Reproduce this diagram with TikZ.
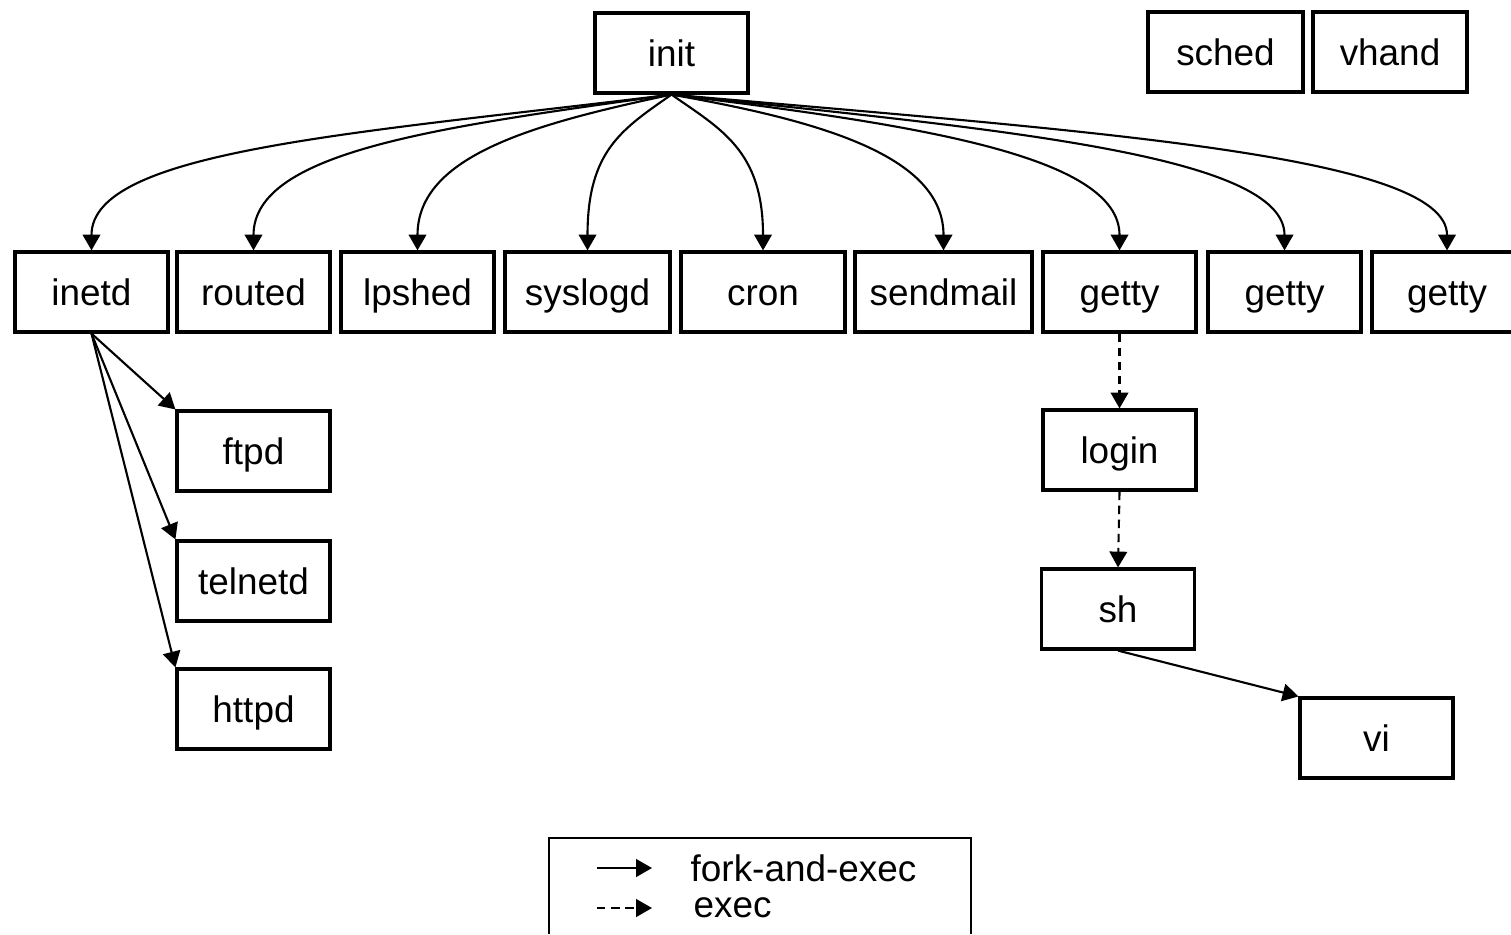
\documentclass[tikz,border=0pt]{standalone}
\usepackage{fontspec}
\setmainfont{Liberation Sans}
\usetikzlibrary{arrows.meta}
\begin{document}
\begin{tikzpicture}[
    caja/.style={draw,line width=0.9pt,minimum width=1.53cm,minimum height=0.8cm,inner sep=0pt,
      text height=0.9em,text depth=0.15em,font=\fontsize{10.5}{12}\selectfont},
    fork/.style={line width=0.6pt,-{Triangle[length=4.5pt,width=5pt]}},
    exec/.style={fork,dash pattern=on 2.4pt off 1.6pt}]
    \useasboundingbox (0,0) rectangle (15.11,9.34);

    % init y procesos del kernel
    \node[caja] (init) at (6.715,8.81) {init};
    \node[caja,minimum width=1.55cm] (sched) at (12.255,8.82) {sched};
    \node[caja,minimum width=1.54cm] (vhand) at (13.90,8.82) {vhand};

    % hijos de init
    \foreach \n/\x/\w/\t in {
        inetd/0.915/1.53/inetd,
        routed/2.535/1.53/routed,
        lpshed/4.175/1.53/lpshed,
        syslogd/5.875/1.65/syslogd,
        cron/7.63/1.64/cron,
        sendmail/9.435/1.77/sendmail,
        gettyA/11.195/1.53/getty,
        gettyB/12.845/1.53/getty,
        gettyC/14.47/1.50/getty}{
      \node[caja,minimum width=\w cm] (\n) at (\x,6.42) {\t};
    }
    \foreach \n/\a/\o/\i in {
        inetd/-173/3.2/1.0,
        routed/-172/2.3/1.0,
        lpshed/-168/1.4/0.95,
        syslogd/-145/0.6/1.0,
        cron/-35/0.6/1.0,
        sendmail/-10/1.5/0.95,
        gettyA/-7/2.45/0.95,
        gettyB/-6/3.35/0.95,
        gettyC/-5/4.25/0.95}{
      \draw[fork] (init.south) to[out=\a,in=90,out distance=\o cm,in distance=\i cm] (\n.north);
    }

    % servicios de inetd
    \node[caja] (ftpd) at (2.535,4.83) {ftpd};
    \node[caja] (telnetd) at (2.535,3.53) {telnetd};
    \node[caja] (httpd) at (2.535,2.25) {httpd};
    \foreach \n in {ftpd,telnetd,httpd}{
      \draw[fork] (inetd.south) -- (\n.north west);
    }

    % sesion de usuario
    \node[caja] (login) at (11.195,4.84) {login};
    \node[caja] (sh) at (11.18,3.25) {sh};
    \node[caja] (vi) at (13.765,1.96) {vi};
    \draw[exec] (gettyA.south) -- (login.north);
    \draw[exec] (login.south) -- (sh.north);
    \draw[fork] (sh.south) -- (vi.north west);

    % leyenda
    \draw[line width=0.6pt] (5.49,0) |- (9.71,0.96) -- (9.71,0);
    \coordinate (f1) at (5.97,0.66);
    \coordinate (f2) at (6.52,0.66);
    \coordinate (e1) at (5.97,0.26);
    \coordinate (e2) at (6.52,0.26);
    \draw[fork] (f1) -- (f2);
    \draw[exec] (e1) -- (e2);
    \node[anchor=west,inner sep=0pt,font=\fontsize{10.5}{12}\selectfont] (tfork) at (6.90,0.66) {fork-and-exec};
    \node[anchor=west,inner sep=0pt,font=\fontsize{10.5}{12}\selectfont] (texec) at (6.93,0.26) {exec};
  \end{tikzpicture}
\end{document}
